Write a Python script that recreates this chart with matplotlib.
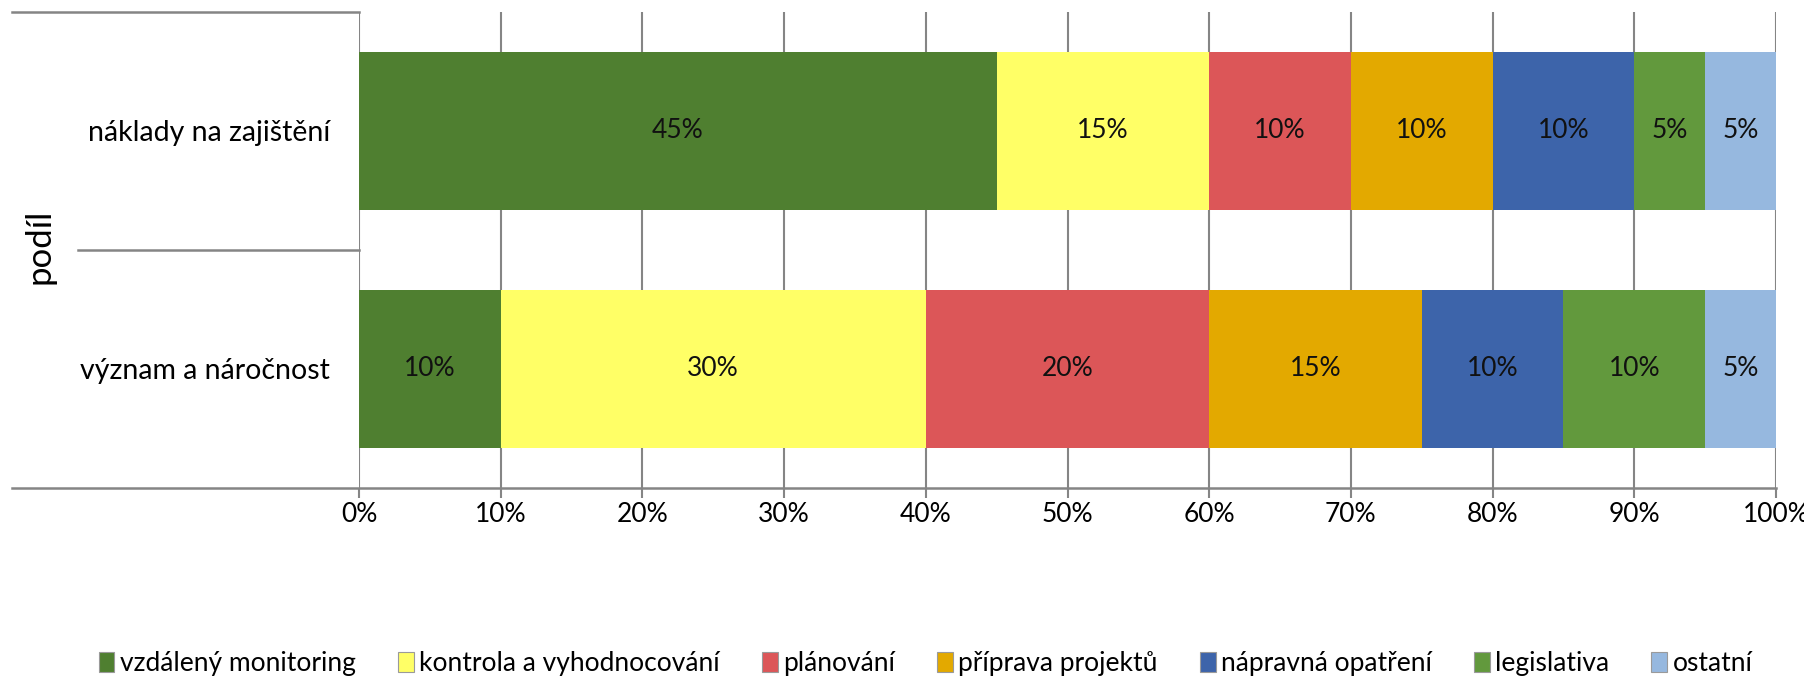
import matplotlib
matplotlib.use("Agg")
import matplotlib.pyplot as plt
from matplotlib.transforms import blended_transform_factory
from matplotlib.patches import Patch

plt.rcParams['font.family'] = ['Lato', 'DejaVu Sans']

categories = ["význam a náročnost", "náklady na zajištění"]
series_names = ["vzdálený monitoring", "kontrola a vyhodnocování", "plánování",
                "příprava projektů", "nápravná opatření", "legislativa", "ostatní"]
# shares per category (percent), order follows `categories`
vzdaleny_monitoring = [10, 45]
kontrola_vyhodnocovani = [30, 15]
planovani = [20, 10]
priprava_projektu = [15, 10]
napravna_opatreni = [10, 10]
legislativa = [10, 5]
ostatni = [5, 5]
series_values = [vzdaleny_monitoring, kontrola_vyhodnocovani, planovani,
                 priprava_projektu, napravna_opatreni, legislativa, ostatni]
x_ticks = [0, 10, 20, 30, 40, 50, 60, 70, 80, 90, 100]
x_tick_labels = [f"{t}%" for t in x_ticks]

colors = ["#4F7F30", "#FFFF66", "#DC5658", "#E3A900", "#3D64AA", "#62993D", "#96B8DF"]
grid_col = "#858585"
fs = 19

fig = plt.figure(figsize=(18.04, 6.81), dpi=100)
ax = fig.add_axes([359 / 1804, 1 - 488 / 681, (1776 - 359) / 1804, (488 - 12) / 681])

ypos = list(range(len(categories)))
left = [0] * len(categories)
for name, vals, col in zip(series_names, series_values, colors):
    bars = ax.barh(ypos, vals, left=left, height=0.66, color=col, label=name,
                   edgecolor='none', zorder=3)
    for b, v in zip(bars, vals):
        ax.text(b.get_x() + b.get_width() / 2, b.get_y() + b.get_height() / 2,
                f"{v}%", ha='center', va='center', fontsize=fs, color='#111111', zorder=4)
    left = [l + v for l, v in zip(left, vals)]

ax.set_xlim(0, 100)
ax.set_ylim(-0.5, 1.5)
ax.set_xticks(x_ticks)
ax.set_xticklabels(x_tick_labels, fontsize=fs)
ax.set_yticks(ypos)
ax.set_yticklabels(categories, fontsize=20.5)
ax.tick_params(axis='y', length=0, pad=21)
ax.tick_params(axis='x', length=7, width=1.5, color=grid_col, pad=3)
ax.xaxis.grid(True, color=grid_col, linewidth=1.5, zorder=0)
for s in ax.spines.values():
    s.set_visible(False)

# category-axis boundary lines reaching out to the left
tr = blended_transform_factory(fig.transFigure, ax.transData)
ax.plot([12 / 1804, 1776 / 1804], [-0.5, -0.5], transform=tr, color=grid_col,
        lw=1.8, clip_on=False, zorder=2)
ax.plot([12 / 1804, 359 / 1804], [1.5, 1.5], transform=tr, color=grid_col,
        lw=1.8, clip_on=False, zorder=2)
ax.plot([78 / 1804, 359 / 1804], [0.5, 0.5], transform=tr, color=grid_col,
        lw=1.8, clip_on=False, zorder=2)

fig.text(40 / 1804, 1 - 246 / 681, "podíl", rotation=90, ha='center', va='center',
         fontsize=25)

handles = [Patch(facecolor=c, edgecolor='#9a9a9a', linewidth=0.8) for c in colors]
fig.legend(handles, series_names, loc='center', bbox_to_anchor=(0.513, 0.025),
           ncol=7, frameon=False, fontsize=fs, handlelength=0.6, handleheight=0.8,
           handletextpad=0.2, columnspacing=1.6)

fig.savefig("out.png", dpi=100)
